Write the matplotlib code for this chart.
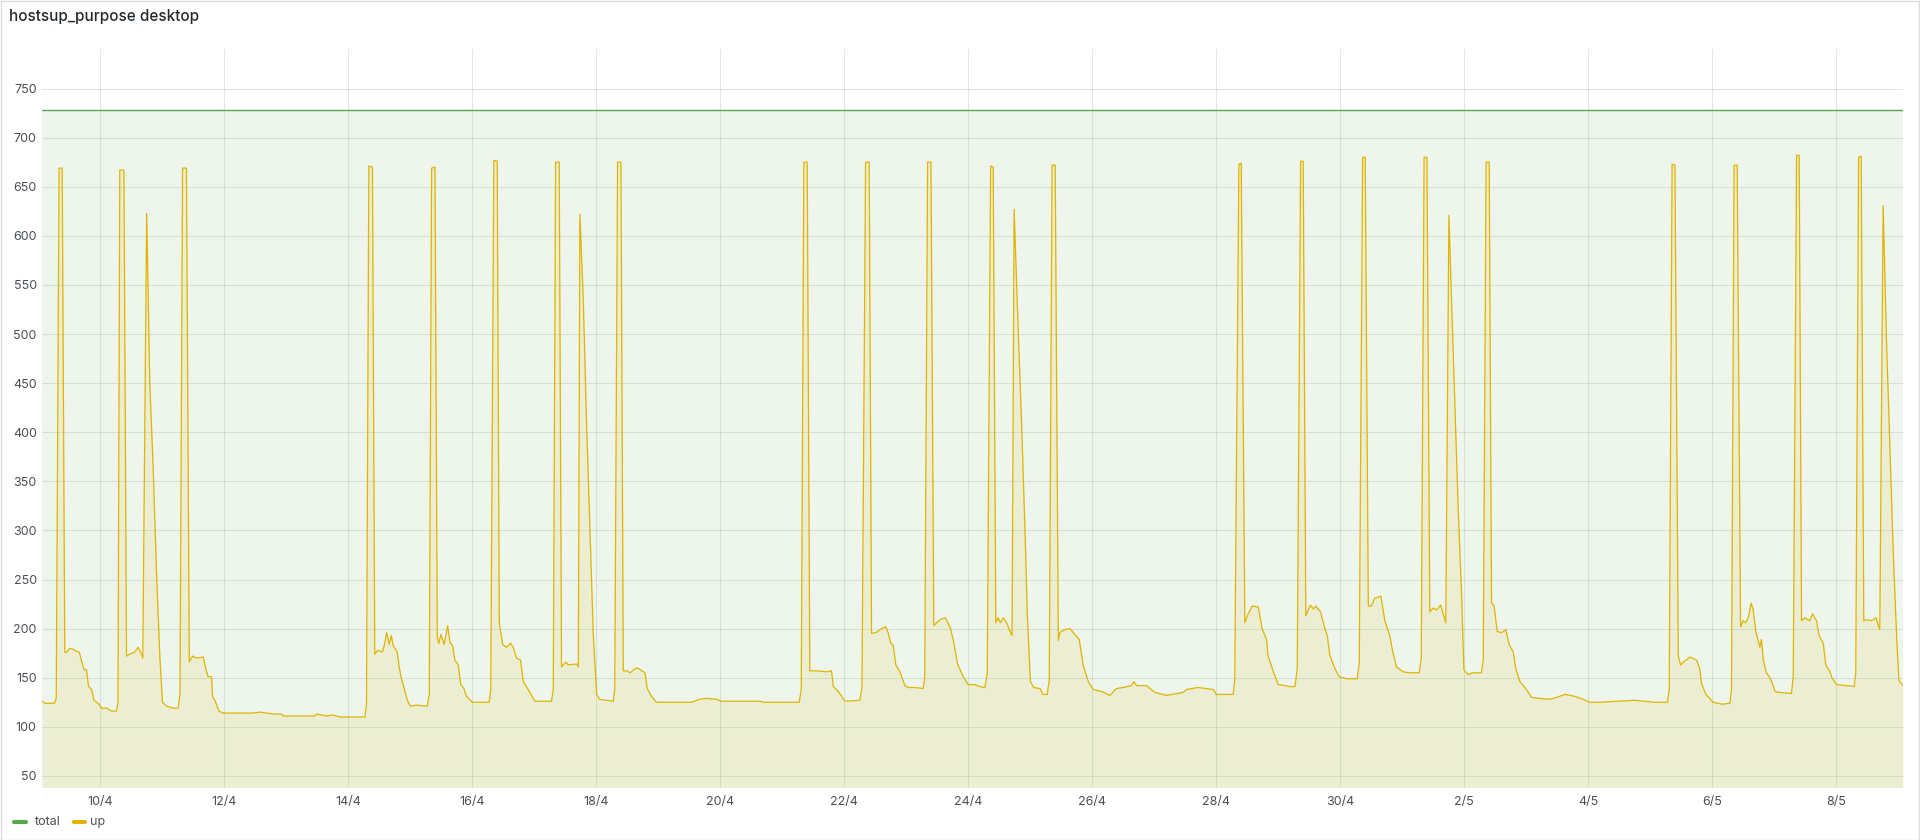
import matplotlib
matplotlib.use('Agg')
import matplotlib.pyplot as plt
from matplotlib.lines import Line2D
from matplotlib.patches import Rectangle

plt.rcParams['font.family'] = ['Inter', 'DejaVu Sans']

title = 'hostsup_purpose desktop'
series_names = ['total', 'up']
total_value = 728

# time axis: hours since 10/4 00:00
x_min, x_max = -22.4, 698.0
tick_hours = [0, 48, 96, 144, 192, 240, 288, 336, 384, 432, 480, 528, 576, 624, 672]
tick_labels = ['10/4', '12/4', '14/4', '16/4', '18/4', '20/4', '22/4', '24/4',
               '26/4', '28/4', '30/4', '2/5', '4/5', '6/5', '8/5']
y_ticks = [50, 100, 150, 200, 250, 300, 350, 400, 450, 500, 550, 600, 650, 700, 750]

up_hours = [
    -22.4, -21.5, -17.7, -17.0, -15.9, -14.7, -13.7, -13.0, -11.7, -10.4, -9.4, -8.1, -7.2, -6.2,
    -5.3, -4.5, -3.3, -2.4, -0.4, 0.5, 2.5, 4.4, 6.3, 6.9, 7.6, 9.2, 10.2, 11.5, 13.4, 14.7, 16.0,
    16.5, 18.0, 19.2, 20.5, 21.8, 23.1, 24.1, 25.7, 28.3, 30.2, 30.9, 31.9, 33.4, 34.5, 35.8, 37.3,
    39.9, 40.9, 41.8, 43.1, 43.5, 44.7, 46.0, 47.6, 59.2, 61.8, 64.4, 67.0, 70.2, 70.9, 83.1, 83.8,
    87.6, 90.2, 92.8, 100.5,
    102.5, 103.1, 104.0, 105.4, 106.3, 107.6, 109.2, 110.0, 110.9, 111.9, 112.7, 113.4, 115.0,
    115.8, 116.7, 118.0, 118.9, 120.1, 122.5, 126.6, 127.4, 128.3, 129.6, 130.5, 131.1, 131.9,
    133.2, 134.5, 135.4, 136.4, 137.3, 138.6, 139.6, 140.8, 141.8, 144.0, 150.6, 151.2, 152.4,
    153.7, 154.5, 155.8, 157.3, 158.9, 159.9, 161.2, 162.7, 163.8, 165.7, 168.3, 174.7, 175.4,
    176.3, 177.7, 178.6, 180.3, 181.2, 184.4, 185.1, 185.7, 187.0, 188.3, 189.6, 190.9, 192.2,
    193.4, 196.0, 198.6, 199.2, 200.3, 201.6, 202.5, 203.8, 205.1, 207.0, 208.0, 210.9, 211.8,
    213.4, 215.4, 220.5,
    228.9, 232.1, 234.7, 238.6, 240.5, 255.4, 256.7, 270.6, 271.4, 272.4, 273.7, 274.7, 277.3,
    281.2, 283.1, 283.8, 285.7, 288.3, 294.1, 294.9, 296.3, 297.7, 298.6, 300.3, 302.5, 304.1,
    305.0, 306.1, 307.0, 308.0, 309.6, 311.5, 312.8, 315.4, 318.6, 319.2, 320.3, 321.6, 322.7,
    323.8, 325.7, 327.2, 329.2, 330.5, 331.9, 334.1, 336.0, 338.6, 340.5,
    342.5, 343.4, 344.7, 345.7, 346.7, 347.6, 348.5, 349.6, 351.1, 351.9, 353.0, 353.8, 355.4,
    356.7, 358.0, 358.9, 360.1, 361.4, 363.8, 365.0, 366.6, 367.4, 368.5, 369.7, 370.9, 371.5,
    373.4, 375.4, 377.3, 379.0, 380.5, 382.5, 384.4, 387.6, 390.9, 393.4, 396.0, 399.2, 400.1,
    401.2, 405.0, 408.3, 412.8, 419.2, 420.5, 425.0, 430.9, 432.1, 438.6, 439.2, 440.8, 441.7,
    443.1, 444.4, 446.0, 448.3, 449.8, 451.5, 452.1, 454.3, 456.0, 458.6, 460.5,
    462.5, 463.4, 464.7, 465.7, 466.7, 468.5, 469.6, 470.6, 472.4, 474.1, 475.0, 476.0, 478.0,
    479.6, 482.5, 486.6, 487.4, 488.7, 489.7, 490.9, 492.1, 493.4, 495.8, 497.3, 499.2, 500.3,
    501.8, 504.4, 507.0, 510.6, 511.4, 512.5, 513.6, 514.7, 516.0, 517.3, 518.9, 519.9, 520.9,
    522.1, 523.1, 524.4, 525.7, 527.0, 527.9, 529.6, 531.2, 534.7, 535.4, 536.5, 537.7, 538.6,
    539.6, 540.8, 542.5, 544.1, 545.4, 547.0, 548.0, 549.6, 552.1, 554.1, 556.7, 561.2, 563.8,
    567.0, 568.9, 570.9, 574.1, 576.7, 580.5,
    587.0, 594.1, 598.0, 601.8, 606.7, 607.4, 608.5, 609.6, 610.9, 611.8, 613.4, 615.4, 618.0,
    619.2, 619.9, 621.6, 624.4, 628.0, 630.9, 631.5, 632.5, 633.7, 635.0, 636.0, 637.0, 638.0,
    639.1, 639.9, 640.9, 642.5, 643.1, 643.8, 645.0, 646.1, 647.4, 648.3, 650.2, 654.7, 655.4,
    656.7, 657.7, 658.6, 659.9, 661.8, 662.9, 664.4, 665.4, 667.0, 668.0, 669.6, 670.2, 672.1,
    676.0, 679.0, 679.6, 680.7, 681.7, 682.7, 683.8, 685.7, 687.4, 688.9, 690.2, 691.5, 692.8,
    694.1, 695.4, 696.3, 698.0,
]
up_values = [
    126, 124, 124, 129, 669, 669, 176, 176, 180, 179, 177, 176, 167, 158,
    158, 141, 138, 127, 123, 119, 119, 116, 116, 125, 667, 667, 172, 174, 176, 181, 174,
    170, 623, 450, 365, 258, 172, 125, 121, 119, 119, 133, 669, 669, 166, 172, 170,
    171, 159, 151, 151, 131, 125, 116, 114, 114, 115, 114, 113, 113, 111, 111, 113,
    111, 112, 110, 110,
    110, 123, 671, 670, 174, 178, 176, 183, 196, 184, 193, 183, 176,
    160, 148, 136, 127, 121, 122, 121, 133, 669, 670, 191, 185, 194,
    184, 203, 186, 183, 168, 163, 143, 139, 131, 125, 125, 138, 677,
    676, 206, 184, 181, 185, 181, 170, 168, 146, 138, 126, 126, 138,
    675, 675, 161, 166, 163, 164, 161, 622, 536, 408, 300, 193, 133,
    128, 127, 126, 138, 675, 675, 157, 157, 155, 159, 160, 155, 139,
    131, 125, 125,
    125, 128, 129, 128, 126, 126, 125, 125, 138, 675, 675, 157, 157,
    156, 157, 141, 136, 126, 127, 140, 675, 675, 195, 196, 200, 202,
    196, 185, 183, 163, 156, 142, 140, 140, 139, 151, 675, 675, 203,
    206, 210, 211, 200, 185, 164, 151, 143, 143, 141,
    140, 155, 671, 670, 206, 211, 206, 211, 205, 199, 193, 627, 502,
    408, 300, 215, 146, 140, 139, 133, 133, 148, 672, 672, 188, 196,
    199, 200, 194, 189, 163, 146, 138, 136, 132, 139, 140, 142, 146,
    142, 142, 135, 132, 135, 138, 140, 138, 133, 133, 148, 673, 674,
    206, 215, 223, 222, 200, 189, 172, 155, 143, 142, 141,
    141, 159, 676, 676, 213, 224, 220, 223, 217, 200, 193, 173, 159,
    151, 149, 149, 164, 680, 680, 223, 223, 231, 233, 208, 193, 177,
    161, 156, 155, 155, 170, 680, 680, 217, 221, 219, 224, 215, 206,
    621, 536, 429, 322, 236, 158, 153, 155, 155, 168, 675, 675, 226,
    223, 197, 196, 199, 184, 176, 159, 146, 138, 130, 129, 128, 130,
    133, 132, 131, 128, 125, 125,
    126, 127, 126, 125, 125, 138, 673, 672, 172, 163, 167, 171, 168,
    159, 144, 133, 125, 123, 124, 138, 672, 672, 202, 208, 206, 211,
    226, 219, 197, 181, 189, 168, 155, 151, 144, 136, 135, 134, 151,
    682, 682, 208, 211, 208, 215, 208, 193, 185, 163, 156, 151, 143,
    142, 141, 155, 680, 681, 208, 209, 208, 211, 199, 631, 493, 386,
    279, 193, 147, 142,
]

green = '#56A64B'
yellow = '#E0B400'
text_col = '#4a4f55'

fig = plt.figure(figsize=(19.2, 8.4), dpi=100)
fig.patch.set_facecolor('white')
ax = fig.add_axes([42.3 / 1920, 1 - 786.7 / 840, (1903.3 - 42.3) / 1920, (786.7 - 49.3) / 840])
ax.set_facecolor('none')

ax.fill_between([x_min, x_max], [total_value, total_value], 0, color=green, alpha=0.1, lw=0)
ax.plot([x_min, x_max], [total_value, total_value], color=green, lw=1.0)
ax.fill_between(up_hours, up_values, 0, color=yellow, alpha=0.1, lw=0)
ax.plot(up_hours, up_values, color=yellow, lw=0.9)

ax.set_xlim(x_min, x_max)
ax.set_ylim(39, 790)
ax.set_xticks(tick_hours)
ax.set_xticklabels(tick_labels)
ax.set_yticks(y_ticks)
ax.set_yticklabels([str(v) for v in y_ticks])
ax.grid(True, color='#000000', alpha=0.1, lw=0.8)
ax.set_axisbelow(True)
for s in ax.spines.values():
    s.set_visible(False)
ax.tick_params(length=0, labelsize=9, colors=text_col)
ax.tick_params(axis='y', pad=4)
ax.tick_params(axis='x', pad=7)

fig.text(9 / 1920, 1 - 17 / 840, title, fontsize=11, fontweight='medium',
         color='#24292e', va='center', ha='left')

# legend
leg_y = 1 - 821.7 / 840
for name, col, x0, x1, xt in [(series_names[0], green, 14, 26, 35), (series_names[1], yellow, 74, 85, 90)]:
    fig.add_artist(Line2D([x0 / 1920, x1 / 1920], [leg_y, leg_y], color=col, lw=3,
                          solid_capstyle='round', transform=fig.transFigure))
    fig.text(xt / 1920, leg_y, name, fontsize=9, color=text_col, va='center', ha='left')

fig.add_artist(Rectangle((0.5 / 1920, 0.5 / 840), 1 - 1.5 / 1920, 1 - 1.5 / 840,
                         transform=fig.transFigure, fill=False, edgecolor='#dcdcdc', lw=1))

fig.savefig('out.png', dpi=100)
